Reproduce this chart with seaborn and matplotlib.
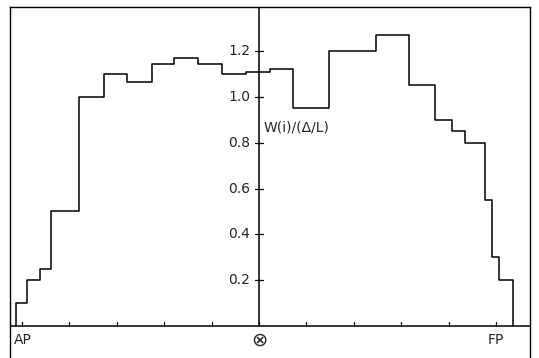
import numpy as np
import matplotlib
matplotlib.use("Agg")
import matplotlib.pyplot as plt
import seaborn as sns

# bin edges in stations (AP = 0, midship = 5, FP = 10)
edges = [-0.13, 0.105, 0.38, 0.61, 1.20, 1.73, 2.22, 2.74, 3.21, 3.71, 4.22,
         4.73, 5.23, 5.72, 6.48, 7.47, 8.16, 8.71, 9.07, 9.35, 9.77, 9.92,
         10.06, 10.36]
# weight per unit length, W(i)/(Delta/L)
weights = [0.10, 0.20, 0.25, 0.50, 1.00, 1.10, 1.065, 1.145, 1.17, 1.145,
           1.10, 1.11, 1.12, 0.95, 1.20, 1.27, 1.05, 0.90, 0.85, 0.80, 0.55,
           0.30, 0.20]
yticks = [0.2, 0.4, 0.6, 0.8, 1.0, 1.2]
yticklabels = ["0.2", "0.4", "0.6", "0.8", "1.0", "1.2"]
stations = list(range(11))
station_labels = {0: "AP", 5: "⊗", 10: "FP"}

sns.set_style("white")
plt.rcParams["font.family"] = ["DejaVu Sans", "Noto Sans CJK SC"]

fig = plt.figure(figsize=(5.39, 3.58), dpi=100)
ax = fig.add_axes([10 / 539, 0, 520 / 539, 351 / 358])

# step outline closed down to the baseline
xs = [edges[0]] + edges[:-1] + [edges[-1], edges[-1]]
ys = [0] + weights + [weights[-1], 0]
sns.lineplot(x=xs, y=ys, ax=ax, estimator=None, sort=False,
             drawstyle="steps-post", color="black", lw=1.1)

x_per_px = 1 / 47.4
xmin = 0 - 12 * x_per_px
xmax = 10 + 34 * x_per_px
y_per_px = 1 / 229
ymin = -32 * y_per_px
ymax = 1.2 + 44 * y_per_px
ax.set_xlim(xmin, xmax)
ax.set_ylim(ymin, ymax)
ax.set_xticks([])
ax.set_yticks([])

for side in ["left", "right", "top"]:
    ax.spines[side].set_color("black")
    ax.spines[side].set_linewidth(1.0)
ax.spines["bottom"].set_visible(False)

# baseline and the central vertical axis
ax.plot([xmin, xmax], [0, 0], color="black", lw=1.1)
ax.plot([5, 5], [0, ymax], color="black", lw=1.1)

# ticks on the baseline
for s in stations:
    ax.plot([s, s], [0, 4 * y_per_px], color="black", lw=0.9)

# crossing ticks and labels on the central axis
for v, lab in zip(yticks, yticklabels):
    ax.plot([5 - 4 * x_per_px, 5 + 4 * x_per_px], [v, v], color="black", lw=0.9)
    ax.text(5 - 9 * x_per_px, v, lab, ha="right", va="center", fontsize=10)

ax.text(5 + 5 * x_per_px, 0.865, "W(i)/(Δ/L)", ha="left", va="center", fontsize=10)

for s, lab in station_labels.items():
    ha = "left" if s == 0 else "center"
    xpos = s - 8 * x_per_px if s == 0 else s
    size = 14 if s == 5 else 10
    ax.text(xpos, -14 * y_per_px, lab, ha=ha, va="center", fontsize=size)

fig.savefig("out.png", dpi=100)
